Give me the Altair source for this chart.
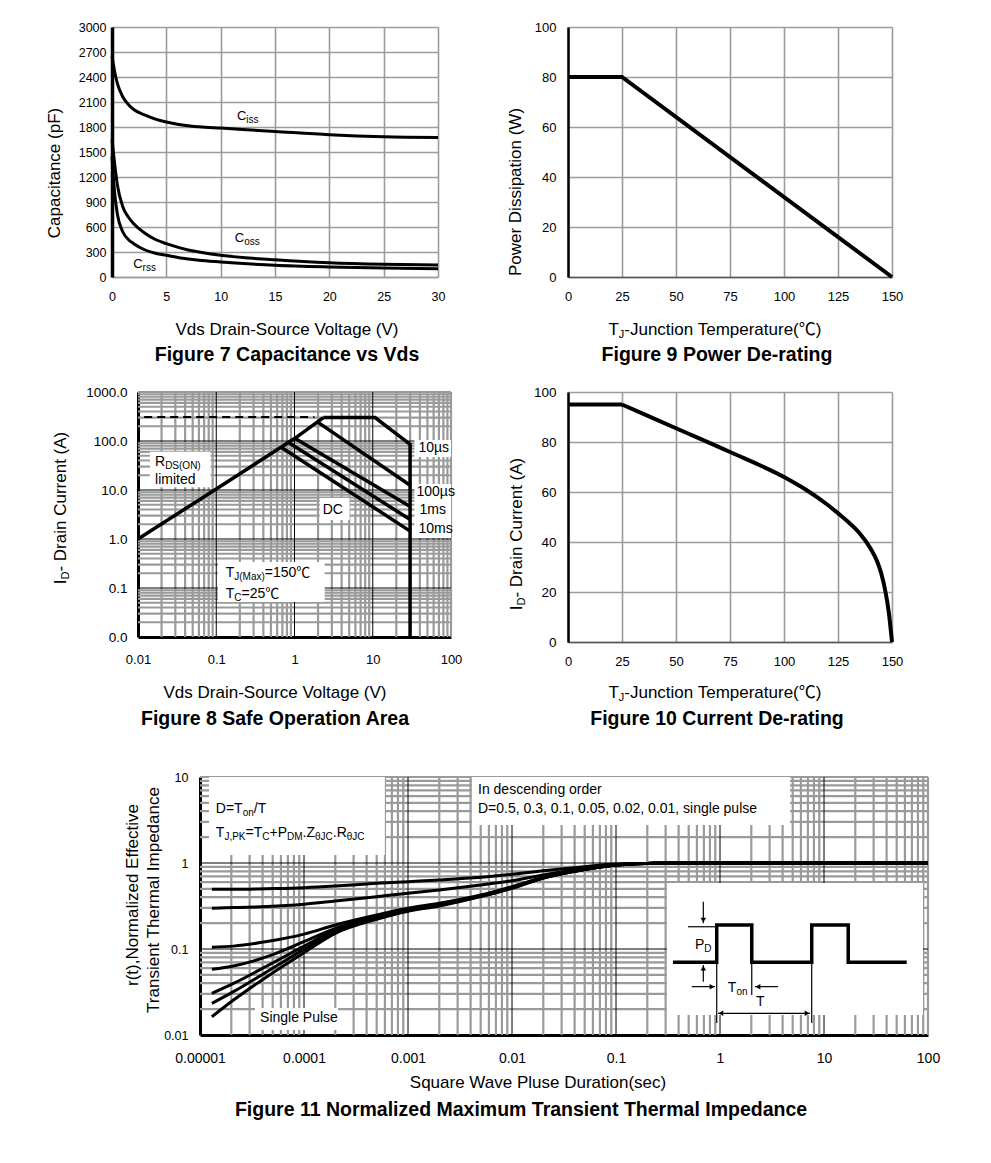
import altair as alt
import pandas as pd

FONT = "Liberation Sans, Arial, Noto Sans CJK SC, DejaVu Sans, sans-serif"
GRID = "#9c9c9c"
MINOR = "#9a9a9a"

# ================= Figure 7 : capacitance =================
cap_vds = [0, 0.25, 0.5, 1, 1.5, 2, 3, 4, 5, 7, 8, 10, 15, 20, 25, 30]
cap_ciss = [2650, 2460, 2320, 2160, 2070, 2010, 1945, 1895, 1860, 1815, 1803, 1787, 1747, 1707, 1683, 1675]
cap_coss = [1650, 1350, 1100, 840, 720, 640, 527, 450, 400, 325, 300, 260, 207, 170, 152, 144]
cap_crss = [1450, 1000, 750, 540, 450, 400, 327, 285, 260, 215, 200, 180, 140, 120, 108, 100]
cap_names = ["Ciss", "Coss", "Crss"]
cap_xticks = [0, 5, 10, 15, 20, 25, 30]
cap_yticks = [0, 300, 600, 900, 1200, 1500, 1800, 2100, 2400, 2700, 3000]
cap_label_subs = ["iss", "oss", "rss"]
cap_label_v = [11.5, 11.3, 1.95]
cap_label_c = [1930, 470, 158]

# ================= Figure 9 : power de-rating =================
pwr_temp = [0, 25, 150]
pwr_watt = [80, 80, 0]
temp_ticks = [0, 25, 50, 75, 100, 125, 150]
pwr_yticks = [0, 20, 40, 60, 80, 100]

# ================= Figure 10 : current de-rating =================
cur_flat_temp = [0, 25]
cur_flat_amp = [95, 95]
cur_temp = [25, 50, 75, 100, 110, 120, 125, 130, 135, 140, 143, 145, 147, 148.5, 150]
cur_amp = [95, 85.5, 76, 66, 61, 55, 51.5, 47.8, 43.5, 37.5, 32.5, 27.5, 20, 12, 0]
cur_yticks = [0, 20, 40, 60, 80, 100]

# ================= Figure 8 : safe operating area =================
soa_xticks = [0.01, 0.1, 1, 10, 100]
soa_yticks = [0.01, 0.1, 1, 10, 100, 1000]
soa_x_decades = [0.01, 0.1, 1, 10]
soa_y_decades = [0.01, 0.1, 1, 10, 100]
soa_x_major = [0.1, 1, 10]
soa_y_major = [0.1, 1, 10, 100]
minor_k = [2, 3, 4, 5, 6, 7, 8, 9]
soa_rds_v = [0.01, 0.1, 1, 2.34]
soa_rds_i = [1.0, 10.5, 112, 300]
soa_10us_v = [2.34, 10.7, 30, 30]
soa_10us_i = [300, 300, 85, 0.01]
soa_100us_v = [2.0, 30]
soa_100us_i = [240, 12.5]
soa_1ms_v = [1.02, 30]
soa_1ms_i = [113, 4.6]
soa_10ms_v = [0.84, 30]
soa_10ms_i = [93, 2.5]
soa_dc_v = [0.69, 30]
soa_dc_i = [73, 1.45]
soa_dash_v = [0.012, 1.8]
soa_dash_i = [310, 310]
soa_box_x1 = [0.0142, 2.10, 0.105, 34.1, 34.1]
soa_box_x2 = [0.0846, 5.06, 2.43, 100, 100]
soa_box_y1 = [11.35, 2.44, 0.0518, 47, 1.05]
soa_box_y2 = [60.5, 6.87, 0.34, 105, 13.2]
soa_pulse_labels = ["10µs", "100µs", "1ms", "10ms"]
soa_pulse_v = [38.4, 36.2, 39.5, 38.4]
soa_pulse_i = [72, 9.1, 3.9, 1.6]

# ================= Figure 11 : transient thermal impedance =================
zth_t = [1.3e-5, 2.1e-5, 4.4e-5, 1e-4, 2e-4, 5e-4, 1e-3, 2e-3, 5e-3, 1e-2, 2e-2, 5e-2, 0.1, 0.2, 0.3, 100]
zth_d05 = [0.494, 0.494, 0.503, 0.517, 0.540, 0.581, 0.607, 0.634, 0.681, 0.738, 0.814, 0.906, 0.974, 0.99, 1.0, 1.0]
zth_d03 = [0.297, 0.303, 0.311, 0.331, 0.361, 0.406, 0.444, 0.485, 0.555, 0.623, 0.725, 0.867, 0.957, 0.99, 1.0, 1.0]
zth_d01 = [0.105, 0.108, 0.122, 0.149, 0.190, 0.248, 0.297, 0.340, 0.425, 0.531, 0.681, 0.844, 0.948, 0.99, 1.0, 1.0]
zth_d005 = [0.058, 0.0634, 0.0814, 0.122, 0.174, 0.238, 0.289, 0.334, 0.417, 0.521, 0.676, 0.844, 0.948, 0.99, 1.0, 1.0]
zth_d002 = [0.0305, 0.0398, 0.0634, 0.108, 0.166, 0.231, 0.284, 0.328, 0.413, 0.517, 0.672, 0.842, 0.947, 0.99, 1.0, 1.0]
zth_d001 = [0.0233, 0.0319, 0.0545, 0.099, 0.159, 0.227, 0.279, 0.322, 0.410, 0.512, 0.670, 0.841, 0.947, 0.99, 1.0, 1.0]
zth_single = [0.0163, 0.0255, 0.0477, 0.0907, 0.152, 0.221, 0.274, 0.316, 0.406, 0.507, 0.668, 0.840, 0.946, 0.99, 1.0, 1.0]
zth_xticks = [1e-5, 1e-4, 1e-3, 1e-2, 0.1, 1, 10, 100]
zth_yticks = [0.01, 0.1, 1, 10]
zth_x_decades = [1e-5, 1e-4, 1e-3, 1e-2, 0.1, 1, 10]
zth_y_decades = [0.01, 0.1, 1]
zth_x_major = [1e-4, 1e-3, 1e-2, 0.1, 1, 10]
zth_y_major = [0.1, 1]
zth_box_x1 = [1.22e-5, 4.12e-3, 3.38e-5, 0.309]
zth_box_x2 = [5.99e-4, 4.71, 2.12e-4, 89.5]
zth_box_y1 = [1.24, 2.77, 0.01143, 0.0171]
zth_box_y2 = [10, 10, 0.0206, 0.585]
wave_t = [0.353, 0.93, 0.93, 2.02, 2.02, 7.62, 7.62, 17.1, 17.1, 62.4]
wave_r = [0.07, 0.07, 0.19, 0.19, 0.07, 0.07, 0.19, 0.19, 0.07, 0.07]
seg_t1 = [0.691, 0.691, 0.535, 3.61, 0.957, 0.492, 0.93, 2.02, 7.62]
seg_t2 = [0.691, 0.691, 0.895, 2.17, 7.33, 0.93, 0.93, 2.02, 7.62]
seg_r1 = [0.355, 0.0417, 0.0365, 0.0365, 0.01786, 0.1815, 0.1815, 0.0683, 0.0683]
seg_r2 = [0.199, 0.0652, 0.0365, 0.0365, 0.01786, 0.1815, 0.0138, 0.0292, 0.0138]
head_t = [0.691, 0.691, 0.838, 2.32, 1.02, 6.87]
head_r = [0.217, 0.0601, 0.0365, 0.0365, 0.01786, 0.01786]
head_shape = ["triangle-down", "triangle-up", "triangle-right", "triangle-left", "triangle-left", "triangle-right"]

# ================= helpers =================
CW = {' ': .278, '.': .278, ',': .278, '=': .584, '+': .584, '-': .333, '(': .333, ')': .333,
      '/': .278, 'θ': .556, 'µ': .556, '℃': 1.0,
      'A': .667, 'C': .722, 'D': .722, 'I': .278, 'J': .5, 'K': .667, 'M': .833, 'N': .722,
      'O': .778, 'P': .667, 'R': .722, 'S': .667, 'T': .611, 'V': .667, 'W': .944, 'Z': .611,
      'a': .556, 'c': .5, 'd': .556, 'e': .556, 'g': .556, 'h': .556, 'i': .222, 'l': .222,
      'm': .833, 'n': .556, 'o': .556, 'p': .556, 'r': .333, 's': .5, 't': .278, 'u': .556,
      'x': .5}

ONE = pd.DataFrame({"k": [0]})


def tw(s, size):
    return size * sum(CW.get(c, 0.556) for c in s)


def px(x, y):
    return {"x": alt.value(x), "y": alt.value(y)}


def box(x1, x2, y1, y2):
    return alt.Chart(ONE).mark_rect(opacity=0).encode(
        x=alt.value(x1), x2=alt.value(x2), y=alt.value(y1), y2=alt.value(y2))


def rich(parts, data, enc, center=False, angle=0):
    base = parts[0][1]
    total = sum(tw(t, s) for t, s, _ in parts)
    off = -total / 2 if center else 0.0
    out = []
    for t, s, sub in parts:
        m = dict(text=t, font=FONT, fontSize=s, align="left", baseline="middle", color="black",
                 dx=round(off, 2), dy=round(0.3 * base, 2) if sub else 0)
        if angle:
            m["angle"] = angle
        out.append(alt.Chart(data).mark_text(**m).encode(**enc))
        off += tw(t, s)
    return out


def ptext(t, x, y, size, bold=False, angle=0):
    m = dict(text=t, font=FONT, fontSize=size, align="center", baseline="middle", color="black",
             fontWeight="bold" if bold else "normal")
    if angle:
        m["angle"] = angle
    return alt.Chart(ONE).mark_text(**m).encode(**px(x, y))


def axis(values, **kw):
    d = dict(values=values, title=None, ticks=False, labelFont=FONT, labelColor="black",
             labelFlush=False, labelOverlap=False)
    d.update(kw)
    return alt.Axis(**d)


def pt(xv, yv):
    return pd.DataFrame({"x": [xv], "y": [yv]})


# ================= Figure 7 =================
S7x = alt.Scale(domain=[0, 30], nice=False, zero=False)
S7y = alt.Scale(domain=[0, 3000], nice=False, zero=False)
A7x = axis(cap_xticks, format="d", grid=True, gridColor=GRID, gridWidth=1.6, domainColor=GRID,
           domainWidth=1.6, labelFontSize=12.5, labelPadding=13)
A7y = axis(cap_yticks, format="d", grid=True, gridColor=GRID, gridWidth=1.6, domainColor="black",
           domainWidth=3.5, labelFontSize=12.5, labelPadding=6)
E7 = {"x": alt.X("x:Q", scale=S7x, axis=A7x), "y": alt.Y("y:Q", scale=S7y, axis=A7y)}

cap_df = pd.DataFrame({"x": cap_vds * 3, "y": cap_ciss + cap_coss + cap_crss,
                       "s": [n for n in cap_names for _ in cap_vds]})
f7 = [box(-103, 346, -19, 343),
      alt.Chart(cap_df).mark_line(color="black", strokeWidth=3, interpolate="monotone").encode(
          detail="s:N", **E7)]
for sub, v, c in zip(cap_label_subs, cap_label_v, cap_label_c):
    f7 += rich([("C", 13, False), (sub, 10, True)], pt(v, c), E7)
f7 += [ptext("Capacitance (pF)", -57, 146, 17, angle=270),
       ptext("Vds Drain-Source Voltage (V)", 175, 303, 17),
       ptext("Figure 7 Capacitance vs Vds", 175, 328, 19.5, bold=True)]
fig7 = alt.layer(*f7).properties(width=326, height=250)

# ================= Figure 9 =================
S9x = alt.Scale(domain=[0, 150], nice=False, zero=False)
S9y = alt.Scale(domain=[0, 100], nice=False, zero=False)
A9x = axis(temp_ticks, grid=True, gridColor=GRID, gridWidth=1.6, domainColor="#555555", domainWidth=1.6,
           labelFontSize=13, labelPadding=13)
A9y = axis(pwr_yticks, grid=True, gridColor=GRID, gridWidth=1.6, domainColor="black", domainWidth=2.5,
           labelFontSize=13, labelPadding=12)
E9 = {"x": alt.X("x:Q", scale=S9x, axis=A9x), "y": alt.Y("y:Q", scale=S9y, axis=A9y)}
pwr_df = pd.DataFrame({"x": pwr_temp, "y": pwr_watt})
f9 = [box(-110, 345, -19, 343),
      alt.Chart(pwr_df).mark_line(color="black", strokeWidth=4).encode(**E9),
      ptext("Power Dissipation (W)", -52, 165, 17, angle=270)]
f9 += rich([("T", 17, False), ("J", 11, True), ("-Junction Temperature(℃)", 17, False)],
           ONE, px(148, 303), center=True)
f9 += [ptext("Figure 9 Power De-rating", 149, 328, 19.5, bold=True)]
fig9 = alt.layer(*f9).properties(width=324, height=250)

# ================= Figure 10 =================
E10 = {"x": alt.X("x:Q", scale=S9x, axis=A9x),
       "y": alt.Y("y:Q", scale=S9y, axis=axis(cur_yticks, grid=True, gridColor=GRID, gridWidth=1.6,
                                             domainColor="black", domainWidth=2.5,
                                             labelFontSize=13.5, labelPadding=12))}
cur_flat_df = pd.DataFrame({"x": cur_flat_temp, "y": cur_flat_amp})
cur_df = pd.DataFrame({"x": cur_temp, "y": cur_amp})
f10 = [box(-100, 345, -22, 361),
       alt.Chart(cur_flat_df).mark_line(color="black", strokeWidth=4).encode(**E10),
       alt.Chart(cur_df).mark_line(color="black", strokeWidth=4, interpolate="monotone").encode(**E10)]
f10 += rich([("I", 17, False), ("D", 11, True), ("- Drain Current (A)", 17, False)],
            ONE, px(-51, 142), center=True, angle=270)
f10 += rich([("T", 17, False), ("J", 11, True), ("-Junction Temperature(℃)", 17, False)],
            ONE, px(148, 301), center=True)
f10 += [ptext("Figure 10 Current De-rating", 149, 327, 19.5, bold=True)]
fig10 = alt.layer(*f10).properties(width=324, height=250)

# ================= Figure 8 =================
S8x = alt.Scale(type="log", domain=[0.01, 100], nice=False)
S8y = alt.Scale(type="log", domain=[0.01, 1000], nice=False)
A8x = axis(soa_xticks, format="~g", grid=False, domainColor="black", domainWidth=3,
           labelFontSize=13, labelPadding=16)
A8y = axis(soa_yticks, format=".1f", grid=False, domainColor="black", domainWidth=3,
           labelFontSize=13.5, labelPadding=11)
E8 = {"x": alt.X("x:Q", scale=S8x, axis=A8x), "y": alt.Y("y:Q", scale=S8y, axis=A8y)}
soa_x_minor = [k * d for d in soa_x_decades for k in minor_k] + [100]
soa_y_minor = [k * d for d in soa_y_decades for k in minor_k] + [1000]

soa_paths = [("rds", soa_rds_v, soa_rds_i), ("10us", soa_10us_v, soa_10us_i),
             ("100us", soa_100us_v, soa_100us_i), ("1ms", soa_1ms_v, soa_1ms_i),
             ("10ms", soa_10ms_v, soa_10ms_i), ("dc", soa_dc_v, soa_dc_i)]
soa_rows = [{"x": v, "y": i, "s": n, "o": j}
            for n, vs, is_ in soa_paths for j, (v, i) in enumerate(zip(vs, is_))]
soa_df = pd.DataFrame(soa_rows)
soa_boxes = pd.DataFrame({"x": soa_box_x1, "x2": soa_box_x2, "y": soa_box_y1, "y2": soa_box_y2})

f8 = [box(-129, 330, -22, 361),
      alt.Chart(pd.DataFrame({"x": soa_x_minor})).mark_rule(color=MINOR, strokeWidth=2.2).encode(x=E8["x"]),
      alt.Chart(pd.DataFrame({"y": soa_y_minor})).mark_rule(color=MINOR, strokeWidth=2.2).encode(y=E8["y"]),
      alt.Chart(pd.DataFrame({"x": soa_x_major})).mark_rule(color="black", strokeWidth=1).encode(x=E8["x"]),
      alt.Chart(pd.DataFrame({"y": soa_y_major})).mark_rule(color="black", strokeWidth=1).encode(y=E8["y"]),
      alt.Chart(soa_boxes).mark_rect(fill="white").encode(x2="x2:Q", y2="y2:Q", **E8),
      alt.Chart(soa_df).mark_line(color="black", strokeWidth=3.5).encode(
          detail="s:N", order="o:Q", **E8),
      alt.Chart(pd.DataFrame({"x": soa_dash_v, "y": soa_dash_i})).mark_line(
          color="black", strokeWidth=2, strokeDash=[8, 5]).encode(**E8)]
f8 += rich([("R", 14, False), ("DS(ON)", 10, True)], pt(0.0165, 37.3), E8)
f8 += rich([("limited", 14, False)], pt(0.0165, 16.0), E8)
f8 += rich([("DC", 14, False)], pt(2.29, 3.9), E8)
f8 += rich([("T", 14, False), ("J(Max)", 10, True), ("=150℃", 14, False)], pt(0.132, 0.202), E8)
f8 += rich([("T", 14, False), ("C", 10, True), ("=25℃", 14, False)], pt(0.132, 0.0755), E8)
for lab, v, i in zip(soa_pulse_labels, soa_pulse_v, soa_pulse_i):
    f8 += rich([(lab, 14, False)], pt(v, i), E8)
f8 += rich([("I", 17, False), ("D", 11, True), ("- Drain Current (A)", 17, False)],
           ONE, px(-77, 116), center=True, angle=270)
f8 += [ptext("Vds Drain-Source Voltage (V)", 137, 301, 17),
       ptext("Figure 8 Safe Operation Area", 137, 327, 19.5, bold=True)]
fig8 = alt.layer(*f8).properties(width=313, height=245)

# ================= Figure 11 =================
S11x = alt.Scale(type="log", domain=[1e-5, 100], nice=False)
S11y = alt.Scale(type="log", domain=[0.01, 10], nice=False)
A11x = axis(zth_xticks, format="~g", grid=False, domainColor="black", domainWidth=3,
            labelFontSize=14, labelPadding=16)
A11y = axis(zth_yticks, format="~g", grid=False, domainColor="black", domainWidth=3,
            labelFontSize=12.5, labelPadding=12)
E11 = {"x": alt.X("x:Q", scale=S11x, axis=A11x), "y": alt.Y("y:Q", scale=S11y, axis=A11y)}
zth_x_minor = [k * d for d in zth_x_decades for k in minor_k] + [100]
zth_y_minor = [k * d for d in zth_y_decades for k in minor_k] + [10]

zth_curves = [("0.5", zth_d05), ("0.3", zth_d03), ("0.1", zth_d01), ("0.05", zth_d005),
              ("0.02", zth_d002), ("0.01", zth_d001), ("single", zth_single)]
zth_df = pd.DataFrame([{"x": t, "y": r, "s": n} for n, rs in zth_curves for t, r in zip(zth_t, rs)])
zth_boxes = pd.DataFrame({"x": zth_box_x1, "x2": zth_box_x2, "y": zth_box_y1, "y2": zth_box_y2})
wave_df = pd.DataFrame({"x": wave_t, "y": wave_r, "o": list(range(len(wave_t)))})
seg_df = pd.DataFrame({"x": seg_t1, "x2": seg_t2, "y": seg_r1, "y2": seg_r2})
head_df = pd.DataFrame({"x": head_t, "y": head_r, "sh": head_shape})

f11 = [box(-191, 750, -24, 345),
       alt.Chart(pd.DataFrame({"x": zth_x_minor})).mark_rule(color=MINOR, strokeWidth=2.2).encode(x=E11["x"]),
       alt.Chart(pd.DataFrame({"y": zth_y_minor})).mark_rule(color=MINOR, strokeWidth=2.2).encode(y=E11["y"]),
       alt.Chart(pd.DataFrame({"x": zth_x_major})).mark_rule(color="black", strokeWidth=1).encode(x=E11["x"]),
       alt.Chart(pd.DataFrame({"y": zth_y_major})).mark_rule(color="black", strokeWidth=1).encode(y=E11["y"]),
       alt.Chart(zth_boxes).mark_rect(fill="white").encode(x2="x2:Q", y2="y2:Q", **E11),
       alt.Chart(zth_df).mark_line(color="black", strokeWidth=3, interpolate="monotone").encode(
           detail="s:N", **E11),
       alt.Chart(wave_df).mark_line(color="black", strokeWidth=3.5).encode(order="o:Q", **E11),
       alt.Chart(seg_df).mark_rule(color="black", strokeWidth=1.2).encode(x2="x2:Q", y2="y2:Q", **E11),
       alt.Chart(head_df).mark_point(filled=True, color="black", opacity=1, size=30).encode(
           shape=alt.Shape("sh:N", scale=None), **E11)]
f11 += rich([("In descending order", 14, False)], pt(4.71e-3, 7.06), E11)
f11 += rich([("D=0.5, 0.3, 0.1, 0.05, 0.02, 0.01, single pulse", 14, False)], pt(4.71e-3, 4.24), E11)
f11 += rich([("D=T", 14, False), ("on", 10, True), ("/T", 14, False)], pt(1.42e-5, 4.24), E11)
f11 += rich([("T", 14, False), ("J,PK", 10, True), ("=T", 14, False), ("C", 10, True),
             ("+P", 14, False), ("DM", 10, True), (".Z", 14, False), ("θJC", 10, True),
             (".R", 14, False), ("θJC", 10, True)], pt(1.42e-5, 2.23), E11)
f11 += rich([("Single Pulse", 14, False)], pt(3.78e-5, 0.0158), E11)
f11 += rich([("P", 14, False), ("D", 10, True)], pt(0.575, 0.1114), E11)
f11 += rich([("T", 14, False), ("on", 10, True)], pt(1.19, 0.0352), E11)
f11 += rich([("T", 14, False)], pt(2.22, 0.0242), E11)
f11 += [ptext("r(t),Normalized Effective", -67, 118, 17, angle=270),
        ptext("Transient Thermal Impedance", -46, 123, 17, angle=270),
        ptext("Square Wave Pluse Duration(sec)", 338, 306, 17),
        ptext("Figure 11 Normalized Maximum Transient Thermal Impedance", 321, 333, 19.5, bold=True)]
fig11 = alt.layer(*f11).properties(width=728, height=258)

# ================= layout =================
spacer = alt.Chart(ONE).mark_rect(opacity=0).encode(
    x=alt.value(0), x2=alt.value(1), y=alt.value(0), y2=alt.value(1)).properties(width=1, height=1)

row1 = alt.hconcat(spacer, fig7, fig9, spacing=0)
row2 = alt.hconcat(spacer, fig8, fig10, spacing=0)
row3 = alt.hconcat(spacer, fig11, spacing=0)
chart = alt.vconcat(row1, row2, row3, spacing=0).properties(padding=0).configure_view(stroke=None)

chart.save("out.html", embed_options={"renderer": "svg", "actions": False})
